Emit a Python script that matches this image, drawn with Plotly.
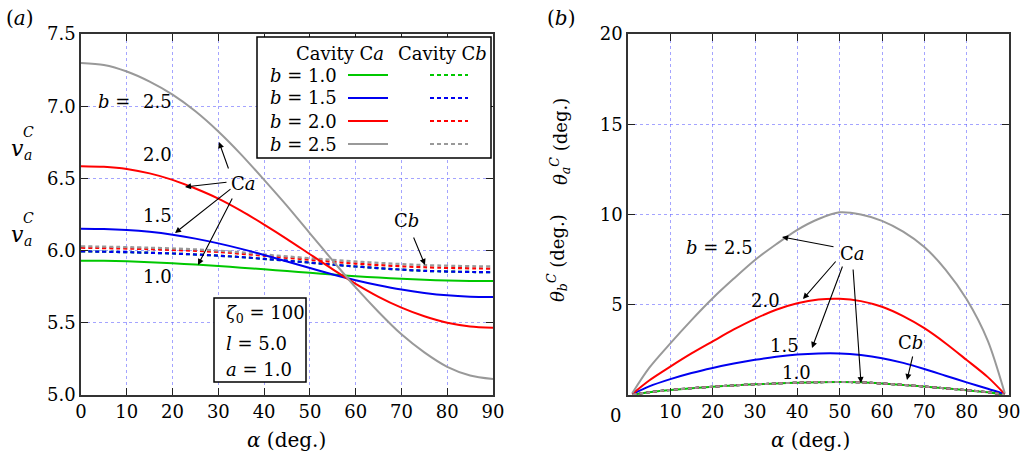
import plotly.graph_objects as go

# ---------------- data ----------------
alpha_a = [0, 5, 10, 15, 20, 25, 30, 35, 40, 45, 50, 55, 60, 65, 70, 75, 80, 85, 90]
va_b10 = [5.93, 5.929, 5.926, 5.92, 5.912, 5.903, 5.893, 5.882, 5.87, 5.858, 5.846, 5.834, 5.823, 5.813, 5.805, 5.798, 5.793, 5.79, 5.789]
va_b15 = [6.152, 6.15, 6.143, 6.13, 6.11, 6.083, 6.05, 6.012, 5.97, 5.925, 5.88, 5.835, 5.795, 5.76, 5.73, 5.707, 5.69, 5.681, 5.678]
va_b20 = [6.585, 6.58, 6.565, 6.535, 6.49, 6.43, 6.36, 6.275, 6.18, 6.08, 5.975, 5.87, 5.77, 5.68, 5.605, 5.545, 5.50, 5.475, 5.465]
va_b25 = [7.30, 7.285, 7.24, 7.17, 7.08, 6.965, 6.825, 6.665, 6.49, 6.31, 6.12, 5.93, 5.745, 5.575, 5.42, 5.295, 5.195, 5.135, 5.11]

alpha_b = [0, 15, 30, 45, 60, 75, 90]
vb_b10 = [5.995, 5.985, 5.965, 5.93, 5.89, 5.86, 5.85]
vb_b15 = [5.995, 5.985, 5.965, 5.93, 5.89, 5.86, 5.85]
vb_b20 = [6.02, 6.01, 5.99, 5.95, 5.91, 5.885, 5.875]
vb_b25 = [6.03, 6.02, 6.00, 5.96, 5.925, 5.90, 5.89]

alpha_r = [1, 5, 10, 15, 20, 25, 30, 35, 40, 45, 50, 55, 60, 65, 70, 75, 80, 85, 89]
tha_b10 = [0.02, 0.15, 0.28, 0.38, 0.46, 0.53, 0.59, 0.64, 0.68, 0.71, 0.72, 0.70, 0.64, 0.56, 0.47, 0.37, 0.27, 0.15, 0.02]
tha_b15 = [0.05, 0.48, 0.88, 1.22, 1.50, 1.74, 1.95, 2.12, 2.24, 2.30, 2.30, 2.21, 2.04, 1.78, 1.44, 1.07, 0.70, 0.35, 0.05]
tha_b20 = [0.05, 0.80, 1.57, 2.30, 2.97, 3.63, 4.22, 4.72, 5.08, 5.29, 5.33, 5.20, 4.89, 4.37, 3.70, 2.87, 1.94, 0.99, 0.05]
tha_b25 = [0.10, 1.50, 2.86, 4.15, 5.36, 6.45, 7.48, 8.35, 9.15, 9.75, 10.12, 10.00, 9.65, 9.05, 8.20, 6.95, 5.30, 3.00, 0.10]
thb_all = [0.02, 0.15, 0.28, 0.38, 0.46, 0.53, 0.59, 0.64, 0.68, 0.71, 0.72, 0.70, 0.64, 0.56, 0.47, 0.37, 0.27, 0.15, 0.02]

b_labels = ["1.0", "1.5", "2.0", "2.5"]
colors = ["#00c800", "#0000f0", "#ff0000", "#999999"]

left_x_ticks = [0, 10, 20, 30, 40, 50, 60, 70, 80, 90]
left_y_ticks = [5.0, 5.5, 6.0, 6.5, 7.0, 7.5]
right_x_ticks = [10, 20, 30, 40, 50, 60, 70, 80, 90]
right_y_ticks = [5, 10, 15, 20]

W, H = 1025, 458
FONT = "DejaVu Serif"
FS = 18


def P(px, py):
    return px / W, 1 - py / H


fig = go.Figure()

va_list = [va_b10, va_b15, va_b20, va_b25]
vb_list = [vb_b10, vb_b15, vb_b20, vb_b25]
for i in range(4):
    fig.add_trace(go.Scatter(x=alpha_b, y=vb_list[i], mode="lines", xaxis="x", yaxis="y",
                             line=dict(color=colors[i], width=2.2, dash="4px,3px", shape="spline"),
                             showlegend=False))
for i in range(4):
    fig.add_trace(go.Scatter(x=alpha_a, y=va_list[i], mode="lines", xaxis="x", yaxis="y",
                             line=dict(color=colors[i], width=2, shape="spline", smoothing=0.8),
                             showlegend=False))

tha_list = [tha_b10, tha_b15, tha_b20, tha_b25]
for i in range(4):
    fig.add_trace(go.Scatter(x=alpha_r, y=tha_list[i], mode="lines", xaxis="x2", yaxis="y2",
                             line=dict(color=colors[i], width=2, shape="spline", smoothing=0.8),
                             showlegend=False))
for i in range(4):
    fig.add_trace(go.Scatter(x=alpha_r, y=thb_all, mode="lines", xaxis="x2", yaxis="y2",
                             line=dict(color=colors[i], width=2, dash="4px,3px", shape="spline", smoothing=0.8),
                             showlegend=False))

axis_common = dict(showline=True, linecolor="#333333", linewidth=1.5, mirror="allticks",
                   ticks="inside", ticklen=7, tickwidth=1.2, tickcolor="#222222",
                   showgrid=True, gridcolor="rgba(90,90,255,0.55)", griddash="dot", gridwidth=1,
                   zeroline=False, automargin=False,
                   tickfont=dict(family=FONT, size=FS, color="black"))

yb, yt = 1 - 395 / H, 1 - 34 / H
fig.update_layout(
    template="none",
    width=W, height=H, autosize=False,
    margin=dict(l=0, r=0, t=0, b=0, pad=0),
    paper_bgcolor="white", plot_bgcolor="white",
    font=dict(family=FONT, color="black"),
    xaxis=dict(domain=[81 / W, 493 / W], range=[0, 90], tickvals=left_x_ticks, anchor="y", **axis_common),
    yaxis=dict(domain=[yb, yt], range=[5.0, 7.5], tickvals=left_y_ticks, tickformat=".1f", anchor="x", **axis_common),
    xaxis2=dict(domain=[628 / W, 1009 / W], range=[0, 90], tickvals=right_x_ticks, anchor="y2", **axis_common),
    yaxis2=dict(domain=[yb, yt], range=[0, 20], tickvals=right_y_ticks, anchor="x2", **axis_common),
)

shapes = []
annots = []


def text(px, py, s, size=FS, xanchor="center", angle=0):
    x, y = P(px, py)
    annots.append(dict(x=x, y=y, xref="paper", yref="paper", text=s, showarrow=False,
                       xanchor=xanchor, yanchor="middle", textangle=angle,
                       font=dict(family=FONT, size=size, color="black")))


def arrow(tx, ty, hx, hy):
    x, y = P(hx, hy)
    annots.append(dict(x=x, y=y, xref="paper", yref="paper", text="", showarrow=True,
                       ax=tx - hx, ay=ty - hy, axref="pixel", ayref="pixel",
                       arrowhead=2, arrowsize=1.1, arrowwidth=1.1, arrowcolor="black"))


def rect(x0, y0, x1, y1):
    a0, b0 = P(x0, y1)
    a1, b1 = P(x1, y0)
    shapes.append(dict(type="rect", xref="paper", yref="paper", x0=a0, y0=b0, x1=a1, y1=b1,
                       line=dict(color="black", width=1.5), fillcolor="white", layer="above"))


def seg(x0, y, x1, color, dash="solid"):
    a0, b = P(x0, y)
    a1, _ = P(x1, y)
    shapes.append(dict(type="line", xref="paper", yref="paper", x0=a0, y0=b, x1=a1, y1=b,
                       line=dict(color=color, width=2.2, dash=dash), layer="above"))


# legend box (left panel)
rect(257, 37, 491, 158)
text(340, 53, "Cavity C<i>a</i>")
text(442, 53, "Cavity C<i>b</i>")
row_y = [75, 98, 121, 144]
for i in range(4):
    text(268, row_y[i], "<i>b</i> = " + b_labels[i], xanchor="left")
    seg(348, row_y[i], 388, colors[i])
    seg(430, row_y[i], 468, colors[i], dash="4px,3px")

# parameter box
rect(214, 298, 306, 382)
text(224, 314, "<i>ζ</i><sub>0</sub> = 100", xanchor="left")
text(224, 343, "<i>l</i> = 5.0", xanchor="left")
text(224, 369, "<i>a</i> = 1.0", xanchor="left")

# left panel labels
text(114, 101, "<i>b</i> =")
text(157, 101, "2.5")
text(157, 155, "2.0")
text(157, 215, "1.5")
text(157, 276, "1.0")
text(243, 183, "C<i>a</i>")
arrow(229, 170, 219, 142)
arrow(228, 182, 185, 187)
arrow(232, 188, 175, 233)
arrow(233, 197, 198, 265)
text(406, 220, "C<i>b</i>")
arrow(413, 236, 425, 265)

# right panel labels
text(719, 247, "<i>b</i> = 2.5")
text(765, 300, "2.0")
text(784, 345, "1.5")
text(796, 372, "1.0")
text(852, 253, "C<i>a</i>")
arrow(835, 247, 782, 237)
arrow(837, 260, 803, 299)
arrow(843, 265, 812, 348)
arrow(853, 268, 861, 383)
text(910, 342, "C<i>b</i>")
arrow(913, 355, 907, 380)
text(615, 415, "0")

# axis titles
text(286, 440, "<i>α</i> (deg.)", size=20)
text(810, 440, "<i>α</i> (deg.)", size=20)

# left y titles (stacked sub/sup)
for dy in (0, 86):
    text(17, 148 + dy, "<i>v</i>", size=22)
    text(28, 132 + dy, "<i>C</i>", size=14)
    text(28, 155 + dy, "<i>a</i>", size=14)

# right y titles
text(560, 142, "<i>θ</i><sub><i>a</i></sub><sup><i>C</i></sup> (deg.)", size=18, angle=-90)
text(557, 258, "<i>θ</i><sub><i>b</i></sub><sup><i>C</i></sup> (deg.)", size=18, angle=-90)

# panel labels
text(20, 18, "(<i>a</i>)", size=20)
text(561, 18, "(<i>b</i>)", size=20)

fig.update_layout(shapes=shapes, annotations=annots)
fig.write_html("out.html", config={"displayModeBar": False},
               post_script="document.body.style.margin='0px';")
